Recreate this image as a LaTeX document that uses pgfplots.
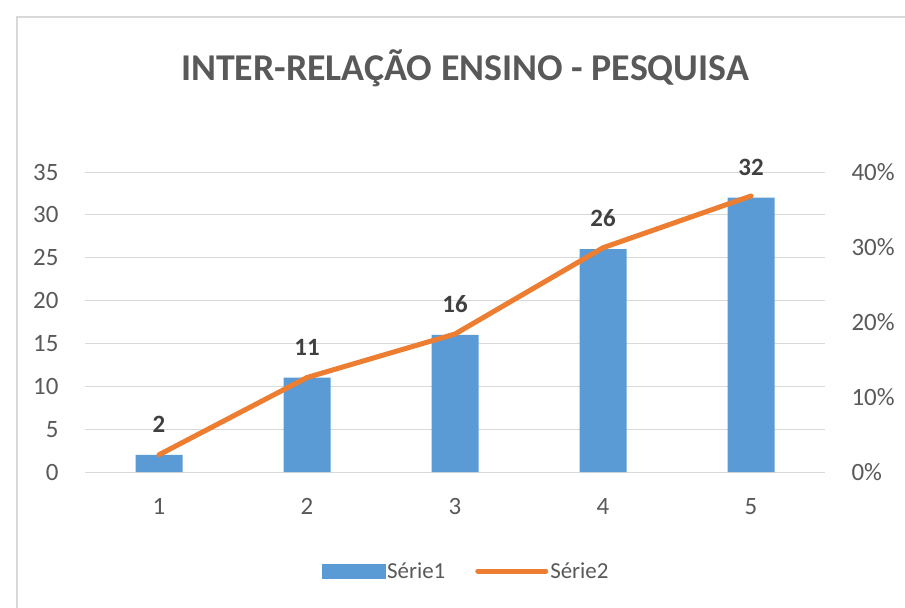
\documentclass[border=0pt]{standalone}
\usepackage{fontspec}
\setmainfont{Carlito}
\usepackage{pgfplots}
\pgfplotsset{compat=1.18}
\definecolor{barblue}{HTML}{5B9BD5}
\definecolor{lineorange}{HTML}{ED7D31}
\definecolor{txtgray}{HTML}{595959}
\definecolor{lblgray}{HTML}{404040}
\definecolor{gridgray}{HTML}{D9D9D9}
\begin{document}
\begin{tikzpicture}
\useasboundingbox (0,0) rectangle (905bp,-608bp);
\fill[white] (0,0) rectangle (905bp,-608bp);
\draw[gridgray, line width=2bp] (17bp,-620bp) -- (17bp,-17bp) -- (920bp,-17bp);
\node[font=\fontsize{38}{44}\selectfont\bfseries, text=txtgray] at (465bp,-68bp) {INTER-RELAÇÃO ENSINO - PESQUISA};
\begin{axis}[
  at={(85bp,-472bp)}, anchor=south west,
  scale only axis, width=740bp, height=300bp,
  xmin=0.5, xmax=5.5, ymin=0, ymax=35,
  xtick={1,2,3,4,5}, ytick={0,5,10,15,20,25,30,35},
  axis x line*=bottom, axis y line*=left,
  x axis line style={gridgray, line width=1bp, -},
  y axis line style={draw=none},
  major tick length=0pt,
  ymajorgrids, grid style={gridgray, line width=1bp},
  tick label style={font=\fontsize{25}{30}\selectfont, text=txtgray},
  xticklabel style={yshift=-23bp},
  yticklabel style={xshift=-23bp},
  /pgf/number format/assume math mode=true,
  clip=false,
  ybar, bar width=47bp,
  nodes near coords,
  nodes near coords style={font=\fontsize{25}{30}\selectfont\bfseries, text=lblgray, yshift=19bp},
]
\addplot[fill=barblue, draw=none] coordinates {(1,2) (2,11) (3,16) (4,26) (5,32)};
\end{axis}
\begin{axis}[
  at={(85bp,-472bp)}, anchor=south west,
  scale only axis, width=740bp, height=300bp,
  xmin=0.5, xmax=5.5, ymin=0, ymax=0.4,
  axis x line=none, axis y line*=right,
  y axis line style={draw=none},
  major tick length=0pt,
  ytick={0,0.1,0.2,0.3,0.4},
  yticklabels={0\%,10\%,20\%,30\%,40\%},
  tick label style={font=\fontsize{25}{30}\selectfont, text=txtgray},
  yticklabel style={xshift=23bp, anchor=west},
  /pgf/number format/assume math mode=true,
  clip=false,
  legend columns=2,
  legend style={at={(0.515,-0.33)}, anchor=center, draw=none, fill=none,
    font=\fontsize{23}{28}\selectfont, text=txtgray,
    /tikz/every even column/.append style={column sep=28bp},
    inner sep=0pt},
]
\addlegendimage{legend image code/.code={\fill[barblue] (0bp,-7bp) rectangle (63bp,7bp);}}
\addplot[lineorange, line width=5bp, mark=none, line cap=round,
  legend image code/.code={\draw[lineorange, line width=5bp, line cap=round] (0bp,0bp) -- (68bp,0bp);}]
  coordinates {(1,0.023) (2,0.126) (3,0.184) (4,0.299) (5,0.368)};
\legend{Série1, Série2}
\end{axis}
\end{tikzpicture}
\end{document}
